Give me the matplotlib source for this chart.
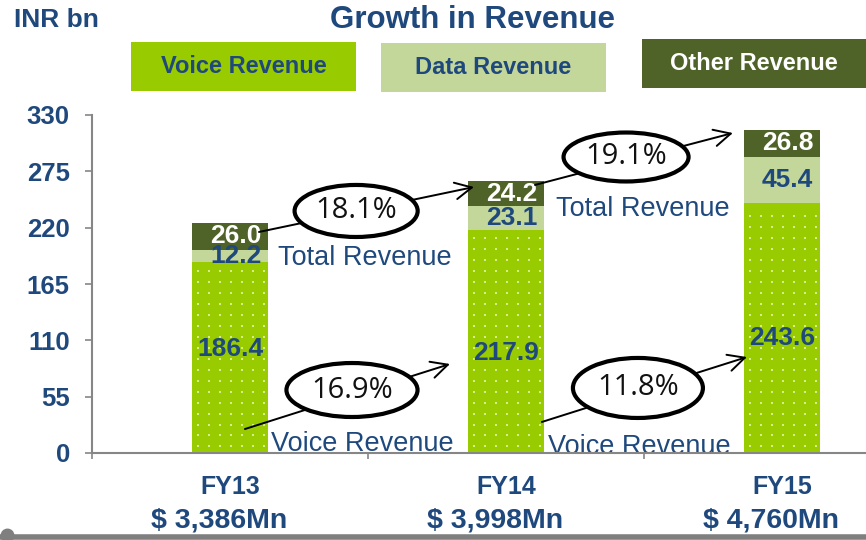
import matplotlib
matplotlib.use("Agg")
from matplotlib import pyplot as plt
from matplotlib import transforms
from matplotlib.patches import Ellipse, Rectangle
from matplotlib.lines import Line2D
import numpy as np

# revenue split, INR bn
years = ["FY13", "FY14", "FY15"]
usd_totals = ["$ 3,386Mn", "$ 3,998Mn", "$ 4,760Mn"]
voice = [186.4, 217.9, 243.6]
data = [12.2, 23.1, 45.4]
other = [26.0, 24.2, 26.8]
yticks = [0, 55, 110, 165, 220, 275, 330]
legend_names = ["Voice Revenue", "Data Revenue", "Other Revenue"]

BLUE = "#1F497D"
C_VOICE = "#99CC00"
C_DATA = "#C4D79B"
C_OTHER = "#4F6228"
GREY = "#868686"
NARROW = ["Liberation Sans Narrow", "Liberation Sans", "DejaVu Sans"]
ARIAL = ["Liberation Sans", "DejaVu Sans"]

plt.rcParams["font.family"] = ARIAL

fig = plt.figure(figsize=(8.66, 5.4), dpi=100)
ax = fig.add_axes([92 / 866, 87 / 540, 828 / 866, 338 / 540])

x = np.arange(len(years))
voice = np.array(voice)
data = np.array(data)
other = np.array(other)
total = voice + data + other
w = 0.272

ax.bar(x, voice, width=w, color=C_VOICE, linewidth=0, zorder=3)
ax.bar(x, data, width=w, bottom=voice, color=C_DATA, linewidth=0, zorder=3)
ax.bar(x, other, width=w, bottom=voice + data, color=C_OTHER, linewidth=0, zorder=3)

# faint dot texture on the voice segments
dx, dy = 0.04, 10.7
for i in range(len(x)):
    gx = np.arange(x[i] - w / 2 + 0.02, x[i] + w / 2 - 0.01, dx)
    gy = np.arange(dy * 0.6, voice[i] - 2, dy)
    GX, GY = np.meshgrid(gx, gy)
    ax.scatter(GX.ravel(), GY.ravel(), s=2.2, marker="s", color="#D6EC8E",
               linewidths=0, zorder=3.5)

# segment values
voice_label_y = [102, 98, 112]
for i in range(len(x)):
    ax.text(x[i], voice_label_y[i], f"{voice[i]:.1f}", ha="center", va="center",
            fontsize=19, fontweight="bold", color=BLUE, zorder=5)
    ax.text(x[i] + 0.02, voice[i] + data[i] / 2, f"{data[i]:.1f}", ha="center", va="center",
            fontsize=19, fontweight="bold", color=BLUE, zorder=5)
    ax.text(x[i] + 0.02, voice[i] + data[i] + other[i] / 2, f"{other[i]:.1f}", ha="center",
            va="center", fontsize=19, fontweight="bold", color="white", zorder=5)

ax.set_xlim(-0.5, 2.5)
ax.set_ylim(0, 330)
ax.set_yticks(yticks)
ax.set_xticks([-0.5, 0.5, 1.5, 2.5])
ax.set_xticklabels([])
ax.tick_params(axis="y", direction="out", length=5, width=1.2, color=GREY, pad=11,
               labelsize=18.5, labelcolor=BLUE)
ax.tick_params(axis="x", direction="out", length=4.5, width=1.2, color=GREY)
for lab in ax.get_yticklabels():
    lab.set_fontweight("bold")
for s in ["top", "right"]:
    ax.spines[s].set_visible(False)
for s in ["left", "bottom"]:
    ax.spines[s].set_color(GREY)
    ax.spines[s].set_linewidth(1.5)
    ax.spines[s].set_zorder(4)

# growth callouts: (start, end, ellipse centre, ellipse size)
callouts = [
    ((0.105, 215.8), (0.884, 259.7), (0.457, 236.3), (0.446, 50.8)),
    ((1.105, 261.7), (1.822, 312.4), (1.435, 289.0), (0.453, 47.8)),
    ((0.054, 23.4), (0.797, 86.9), (0.442, 61.5), (0.475, 52.7)),
    ((1.130, 30.3), (1.873, 93.7), (1.478, 63.5), (0.471, 58.6)),
]
total_growth = total[1:] / total[:-1] - 1
voice_growth = voice[1:] / voice[:-1] - 1
growth = list(total_growth) + list(voice_growth)
for (start, end, c, size), g in zip(callouts, growth):
    ax.annotate("", xy=end, xytext=start,
                arrowprops=dict(arrowstyle="->", color="black", lw=1.4, mutation_scale=30,
                                shrinkA=0, shrinkB=0), zorder=6, annotation_clip=False)
    ax.add_patch(Ellipse(c, size[0], size[1], facecolor="white", edgecolor="black",
                         linewidth=3, zorder=7))
    ax.text(c[0], c[1], f"{g * 100:.1f}%", ha="center", va="center", fontsize=21,
            family=["Open Sans", "DejaVu Sans"], color="#111111", zorder=8)

ax.text(0.488, 190.4, "Total Revenue", ha="center", va="center", fontsize=19.5, color=BLUE, zorder=2)
ax.text(1.496, 238.2, "Total Revenue", ha="center", va="center", fontsize=19.5, color=BLUE, zorder=2)
ax.text(0.478, 8.8, "Voice Revenue", ha="center", va="center", fontsize=19.5, color=BLUE, zorder=2)
ax.text(1.482, 5.9, "Voice Revenue", ha="center", va="center", fontsize=19.5, color=BLUE, zorder=2)

# category labels under the axis
tr = transforms.blended_transform_factory(ax.transData, fig.transFigure)
for i in range(len(x)):
    ax.text(x[i], 1 - 487 / 540, years[i], transform=tr, ha="center", va="center",
            fontsize=18, fontweight="bold", family=NARROW, color=BLUE)
    ax.text(x[i] - 0.04, 1 - 520 / 540, usd_totals[i], transform=tr, ha="center", va="center",
            fontsize=20.5, fontweight="bold", family=NARROW, color=BLUE)

# header
fig.text(472 / 866, 1 - 20 / 540, "Growth in Revenue", ha="center", va="center",
         fontsize=22.5, fontweight="bold", family=NARROW, color=BLUE)
fig.text(14 / 866, 1 - 20 / 540, "INR bn", ha="left", va="center",
         fontsize=19, fontweight="bold", family=NARROW, color=BLUE)

boxes = [(131, 42, 225, 49), (381, 43, 225, 49), (642, 39, 224, 49)]
box_colors = [C_VOICE, C_DATA, C_OTHER]
box_text = [BLUE, BLUE, "white"]
for (bx, by, bw, bh), name, fc, tc in zip(boxes, legend_names, box_colors, box_text):
    fig.add_artist(Rectangle((bx / 866, 1 - (by + bh) / 540), bw / 866, bh / 540,
                             transform=fig.transFigure, facecolor=fc, edgecolor="none"))
    fig.text((bx + bw / 2) / 866, 1 - (by + bh / 2) / 540, name, ha="center", va="center",
             fontsize=17, fontweight="bold", family=NARROW, color=tc)

# slide footer rule
fig.add_artist(Line2D([0, 1], [1 - 537 / 540] * 2, transform=fig.transFigure,
                      color="#7F7F7F", linewidth=4))
fig.add_artist(Line2D([7 / 866], [1 - 535 / 540], transform=fig.transFigure,
                      marker="o", markersize=9, color="#7F7F7F", linestyle="none"))

fig.savefig("out.png", dpi=100)
